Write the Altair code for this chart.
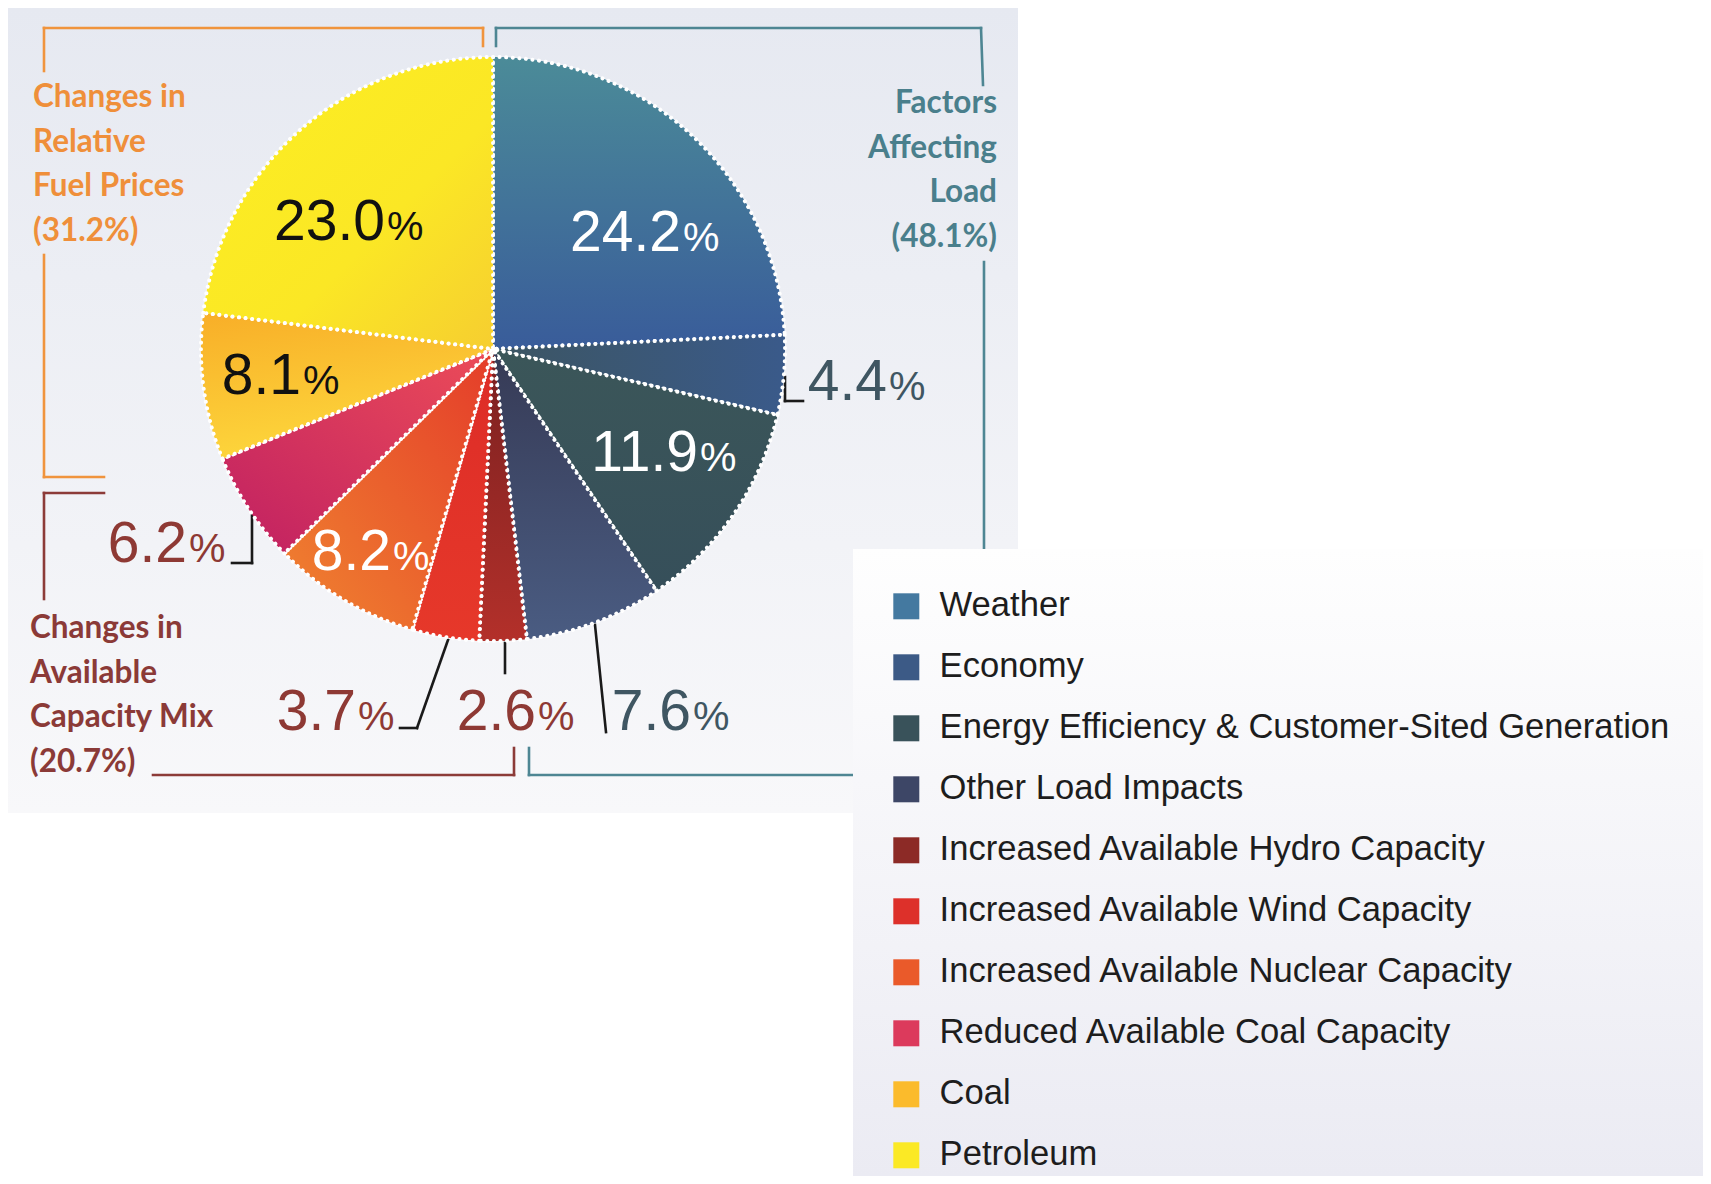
import altair as alt
import pandas as pd
import numpy as np

# ---------------- data ----------------
categories = [
    "Weather",
    "Economy",
    "Energy Efficiency & Customer-Sited Generation",
    "Other Load Impacts",
    "Increased Available Hydro Capacity",
    "Increased Available Wind Capacity",
    "Increased Available Nuclear Capacity",
    "Reduced Available Coal Capacity",
    "Coal",
    "Petroleum",
]
shares = [24.2, 4.4, 11.9, 7.6, 2.6, 3.7, 8.2, 6.2, 8.1, 23.0]

group_fuel = ["Changes in", "Relative", "Fuel Prices", "(31.2%)"]
group_load = ["Factors", "Affecting", "Load", "(48.1%)"]
group_cap = ["Changes in", "Available", "Capacity Mix", "(20.7%)"]

# ---------------- styles ----------------
legend_colors = ["#4479a0", "#3c5a86", "#39525a", "#3d4666", "#8c2a26",
                 "#dd302a", "#ea5a2a", "#dc3a5c", "#fbbb2c", "#fbe925"]


def grad(c1, c2, x1=0, y1=0, x2=0, y2=1, mid=None):
    stops = [alt.GradientStop(color=c1, offset=0)]
    if mid:
        stops.append(alt.GradientStop(color=mid[0], offset=mid[1]))
    stops.append(alt.GradientStop(color=c2, offset=1))
    return alt.Gradient(gradient="linear", stops=stops, x1=x1, y1=y1, x2=x2, y2=y2)


slice_fills = [
    grad("#4b8b98", "#395c9a"),
    grad("#3c5562", "#3a5a8a", 0, 0.5, 1, 0.5),
    grad("#3b5659", "#364f5a"),
    grad("#363a55", "#4a5c82"),
    grad("#7a2020", "#b3302a"),
    grad("#dd2c27", "#e6382a"),
    grad("#e43c2a", "#f08430", 1, 0, 0, 1),
    grad("#ec4c58", "#c02062", 1, 0, 0, 1),
    grad("#f8ae28", "#fdd73c", 0, 0, 0.3, 1),
    grad("#fcef22", "#f6ce30", 0, 0, 1, 1, mid=("#fbe725", 0.6)),
]

OFF = 8  # page margin
W, H = 1695, 1168
CX, CY, R = 493 - OFF, 349 - OFF, 292

NUM_FONT = "Liberation Sans"
GROUP_FONT = "Lato"

WHITE, BLACK, SLATE, BRICK = "#ffffff", "#111111", "#3f5662", "#8e3934"
# label anchor: x where number ends (% starts), text baseline y  (reference pixels)
label_pos = {
    "Weather": (681, 251, WHITE),
    "Economy": (887, 400, SLATE),
    "Energy Efficiency & Customer-Sited Generation": (698, 471, WHITE),
    "Other Load Impacts": (691, 730, SLATE),
    "Increased Available Hydro Capacity": (536, 730, BRICK),
    "Increased Available Wind Capacity": (356, 730, BRICK),
    "Increased Available Nuclear Capacity": (391, 570, WHITE),
    "Reduced Available Coal Capacity": (187, 562, BRICK),
    "Coal": (301, 394, BLACK),
    "Petroleum": (385, 240, BLACK),
}

ORANGE, TEAL, RED, INK = "#f0943d", "#4e8693", "#8c3b38", "#1a1a1a"
segments = [
    # orange bracket
    (44, 71, 44, 28, ORANGE), (44, 28, 483, 28, ORANGE), (483, 28, 483, 46, ORANGE),
    (44, 255, 44, 477, ORANGE), (44, 477, 104, 477, ORANGE),
    # teal bracket
    (496, 46, 496, 28, TEAL), (496, 28, 981, 28, TEAL), (981, 28, 983, 85, TEAL),
    (984, 262, 984, 580, TEAL), (529, 748, 529, 775, TEAL), (529, 775, 880, 775, TEAL),
    # red bracket
    (104, 493, 44, 493, RED), (44, 493, 44, 599, RED),
    (153, 775, 514, 775, RED), (514, 775, 514, 748, RED),
    # leaders
    (785, 377, 785, 401, INK), (785, 401, 803, 401, INK),
    (252, 512, 252, 563, INK), (252, 563, 232, 563, INK),
    (448, 640, 417, 728, INK), (417, 728, 400, 728, INK),
    (505, 643, 505, 673, INK),
    (595, 625, 606, 732, INK),
]

# ---------------- tables ----------------
df = pd.DataFrame({"cat": categories, "share": shares})
df["ce"] = df["share"].cumsum()
df["cs"] = df["ce"] - df["share"]
TOTAL = float(sum(shares))

lab = pd.DataFrame({
    "cat": categories,
    "num": [f"{v:.1f}" for v in shares],
    "jx": [label_pos[c][0] - OFF for c in categories],
    "by": [label_pos[c][1] - OFF for c in categories],
    "col": [label_pos[c][2] for c in categories],
})
seg = pd.DataFrame(segments, columns=["x", "y", "x2", "y2", "col"])
for k in ["x", "y", "x2", "y2"]:
    seg[k] = seg[k] - OFF
one = pd.DataFrame({"k": [0]})

theta_scale = alt.Scale(domain=[0, TOTAL], range=[0, 2 * np.pi])

# ---------------- layers ----------------
panel = alt.Chart(one).mark_rect(
    fill=grad("#e6e9f1", "#f8f8fa")
).encode(x=alt.value(0), x2=alt.value(1018 - OFF), y=alt.value(0), y2=alt.value(813 - OFF))

rules = alt.Chart(seg).mark_rule(strokeWidth=2.6, strokeCap="square").encode(
    x=alt.X("x:Q", scale=None, axis=None),
    y=alt.Y("y:Q", scale=None, axis=None),
    x2="x2:Q", y2="y2:Q",
    stroke=alt.Stroke("col:N", scale=None),
)

legend_box = alt.Chart(one).mark_rect(
    fill=grad("#fefefe", "#ebebf3")
).encode(x=alt.value(853 - OFF), x2=alt.value(W), y=alt.value(549 - OFF), y2=alt.value(H))

pie_base = alt.Chart(df).mark_arc(radius=R).encode(
    theta=alt.Theta("cs:Q", scale=theta_scale),
    theta2="ce:Q",
    x=alt.value(CX), y=alt.value(CY),
    color=alt.Color(
        "cat:N",
        scale=alt.Scale(domain=categories, range=legend_colors),
        sort=categories,
        legend=alt.Legend(
            orient="none", legendX=889 - OFF, legendY=589 - OFF, title=None,
            symbolType="square", symbolSize=676, symbolStrokeWidth=0,
            symbolOpacity=1, labelFont=NUM_FONT, labelFontSize=34.6,
            labelColor="#1d1d1d", labelLimit=0, labelOffset=16,
            rowPadding=26.0, padding=0,
        ),
    ),
)

slices = []
for c, f in zip(categories, slice_fills):
    slices.append(
        alt.Chart(df).transform_filter(alt.datum.cat == c).mark_arc(
            radius=R, fill=f, stroke="white", strokeWidth=4,
            strokeDash=[0.1, 6.5], strokeCap="round",
        ).encode(
            theta=alt.Theta("cs:Q", scale=theta_scale),
            theta2="ce:Q",
            x=alt.value(CX), y=alt.value(CY),
        )
    )

nums = alt.Chart(lab).mark_text(
    align="right", baseline="alphabetic", font=NUM_FONT, fontSize=57
).encode(
    x=alt.X("jx:Q", scale=None, axis=None),
    y=alt.Y("by:Q", scale=None, axis=None),
    text="num:N",
    fill=alt.Fill("col:N", scale=None),
)
pcts = alt.Chart(lab).mark_text(
    align="left", baseline="alphabetic", font=NUM_FONT, fontSize=41, dx=2
).encode(
    x=alt.X("jx:Q", scale=None, axis=None),
    y=alt.Y("by:Q", scale=None, axis=None),
    text=alt.value("%"),
    fill=alt.Fill("col:N", scale=None),
)


def group_text(lines, x, y, color, align):
    return alt.Chart(one).mark_text(
        align=align, baseline="alphabetic", font=GROUP_FONT, fontWeight="bold",
        fontSize=31.5, lineHeight=44.5, color=color,
    ).encode(x=alt.value(x - OFF), y=alt.value(y - OFF), text=alt.value(lines))


g1 = group_text(group_fuel, 33, 107, "#ef8f3a", "left")
g2 = group_text(group_load, 997, 113, "#4a7f8c", "right")
g3 = group_text(group_cap, 30, 638, "#8b3a37", "left")

chart = alt.layer(
    panel, rules, legend_box, pie_base, *slices, nums, pcts, g1, g2, g3
).properties(
    width=W, height=H, autosize=alt.AutoSizeParams(type="none"), padding=0,
    background="white",
).configure_view(strokeWidth=0)

chart.save("out.html", embed_options={"renderer": "svg", "actions": False})
